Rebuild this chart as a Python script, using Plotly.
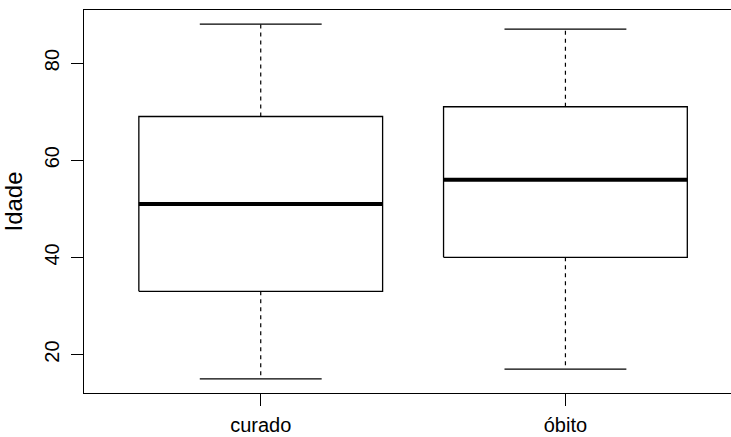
import plotly.graph_objects as go

categories = ["curado", "óbito"]
lower_whisker = [15, 17]
q1 = [33, 40]
median = [51, 56]
q3 = [69, 71]
upper_whisker = [88, 87]
y_ticks = [20, 40, 60, 80]

half_box = 0.4
half_cap = 0.2
FONT = "Liberation Sans, Arial, sans-serif"

fig = go.Figure()
for i, cat in enumerate(categories):
    c = i + 1
    # box outline
    fig.add_trace(go.Scatter(
        x=[c - half_box, c + half_box, c + half_box, c - half_box, c - half_box],
        y=[q1[i], q1[i], q3[i], q3[i], q1[i]],
        mode="lines", line=dict(color="black", width=1.3),
        hoverinfo="skip", showlegend=False))
    # whiskers (dashed)
    fig.add_trace(go.Scatter(
        x=[c, c, None, c, c],
        y=[q3[i], upper_whisker[i], None, q1[i], lower_whisker[i]],
        mode="lines", line=dict(color="black", width=1.2, dash="4px,4px"),
        hoverinfo="skip", showlegend=False))
    # caps
    fig.add_trace(go.Scatter(
        x=[c - half_cap, c + half_cap, None, c - half_cap, c + half_cap],
        y=[upper_whisker[i], upper_whisker[i], None, lower_whisker[i], lower_whisker[i]],
        mode="lines", line=dict(color="black", width=1.3),
        hoverinfo="skip", showlegend=False))
    # median
    fig.add_trace(go.Scatter(
        x=[c - half_box, c + half_box], y=[median[i], median[i]],
        mode="lines", line=dict(color="black", width=4),
        hoverinfo="skip", showlegend=False))

fig.update_layout(
    width=731, height=437,
    margin=dict(l=84, r=0, t=10, b=44),
    paper_bgcolor="white", plot_bgcolor="white",
    font=dict(family=FONT, size=20, color="black"),
)
fig.update_xaxes(
    range=[0.42, 0.42 + 647 / 304.7],
    tickmode="array", tickvals=[1, 2], ticktext=categories,
    showgrid=False, zeroline=False, automargin=False,
    showline=True, linecolor="black", linewidth=1.3, mirror=True,
    ticks="outside", ticklen=12, tickwidth=1.3, tickcolor="black",
    ticklabelstandoff=2,
)
fig.update_yaxes(
    range=[12.08, 90.92],
    tickmode="array", tickvals=y_ticks, ticktext=[str(v) for v in y_ticks],
    tickangle=-90,
    showgrid=False, zeroline=False, automargin=False,
    showline=True, linecolor="black", linewidth=1.3, mirror=False,
    ticks="outside", ticklen=12, tickwidth=1.3, tickcolor="black",
    ticklabelstandoff=4,
    title=dict(text="Idade", standoff=16),
)

fig.write_html(
    "out.html",
    config={"displayModeBar": False},
    post_script="document.body.style.margin='0';document.body.style.overflow='hidden';",
)
